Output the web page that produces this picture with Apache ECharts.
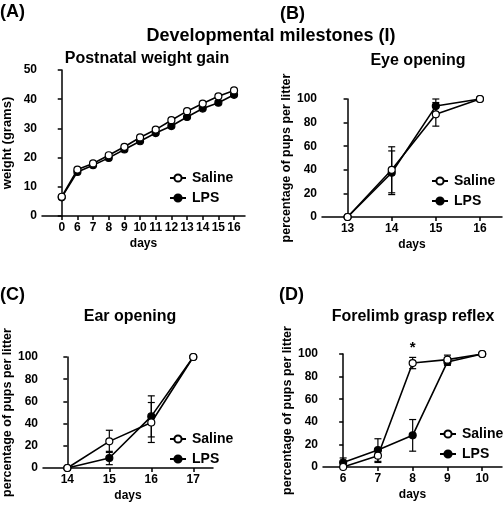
<!DOCTYPE html>
<html>
<head>
<meta charset="utf-8">
<script src="https://cdn.jsdelivr.net/npm/echarts@6.0.0/dist/echarts.min.js"></script>
<style>
html,body{margin:0;padding:0;background:#fff;}
#chart{width:504px;height:506px;}
</style>
</head>
<body>
<div id="chart"></div>
<script>
// ---- Data ----
const weightDays = ['0','6','7','8','9','10','11','12','13','14','15','16'];
const weightSaline = [6.6, 15.9, 18.0, 20.8, 23.7, 26.9, 29.6, 32.8, 35.9, 38.5, 41.0, 43.0];
const weightLPS    = [6.4, 15.1, 17.4, 19.9, 22.8, 25.6, 28.4, 30.8, 33.9, 36.8, 38.8, 41.5];

const eyeDays = ['13','14','15','16'];
const eyeSaline = [0, 40, 87, 100];
const eyeSalineErr = [0, 19.5, 10, 0];
const eyeLPS = [0, 37.5, 94, 100];
const eyeLPSErr = [0, 18.5, 6, 0];

const earDays = ['14','15','16','17'];
const earSaline = [0, 24, 41, 100];
const earSalineErr = [0, 10, 18, 0];
const earLPS = [0, 9, 46.5, 100];
const earLPSErr = [0, 6, 18.5, 0];

const graspDays = ['6','7','8','9','10'];
const graspSaline = [0, 10, 92, 95, 100];
const graspSalineErr = [0, 6, 5, 4, 0];
const graspLPS = [4, 15, 28, 93, 100];
const graspLPSErr = [4, 10, 14, 3, 0];

const pctTicks = [0, 20, 40, 60, 80, 100];
const weightTicks = [0, 10, 20, 30, 40, 50];

// ---- Helpers ----
const FONT = "'Liberation Sans', Arial, sans-serif";
const idx = arr => arr.map((_, i) => i);
const pts = arr => arr.map((v, i) => [i, v]);
const errData = (mean, err) => mean.map((m, i) => [i, m - err[i], m + err[i], err[i]]).filter(d => d[3] > 0);

function errRender(params, api) {
  const x = api.value(0), lo = api.value(1), hi = api.value(2);
  const p1 = api.coord([x, hi]), p2 = api.coord([x, lo]);
  const w = 3.5;
  const st = {stroke: '#000', lineWidth: 1.2};
  return {type: 'group', children: [
    {type: 'line', shape: {x1: p1[0], y1: p1[1], x2: p2[0], y2: p2[1]}, style: st},
    {type: 'line', shape: {x1: p1[0] - w, y1: p1[1], x2: p1[0] + w, y2: p1[1]}, style: st},
    {type: 'line', shape: {x1: p2[0] - w, y1: p2[1], x2: p2[0] + w, y2: p2[1]}, style: st}
  ]};
}

const labelStyle = {color: '#000', fontFamily: FONT, fontWeight: 'bold', fontSize: 12};
const nameStyle = (s) => ({color: '#000', fontFamily: FONT, fontWeight: 'bold', fontSize: s});

function xAxisDef(gi, cats, min, max) {
  const vals = idx(cats);
  return {
    type: 'value', gridIndex: gi, min: min, max: max,
    name: 'days', nameLocation: 'middle', nameGap: 22, nameTextStyle: nameStyle(12),
    axisLine: {show: true, onZero: false, lineStyle: {color: '#000', width: 1.5}},
    axisTick: {show: true, length: 4, lineStyle: {color: '#000', width: 1.5}, customValues: vals},
    axisLabel: Object.assign({margin: 6, customValues: vals, formatter: v => cats[Math.round(v)]}, labelStyle),
    splitLine: {show: false}
  };
}
function yAxisDef(gi, name, ticks, gap, nsize) {
  return {
    type: 'value', gridIndex: gi, min: ticks[0], max: ticks[ticks.length - 1],
    interval: ticks[1] - ticks[0],
    name: name, nameLocation: 'middle', nameGap: gap, nameTextStyle: nameStyle(nsize),
    axisLine: {show: true, lineStyle: {color: '#000', width: 1.5}},
    axisTick: {show: true, length: 4, lineStyle: {color: '#000', width: 1.5}},
    axisLabel: Object.assign({margin: 5}, labelStyle),
    splitLine: {show: false}
  };
}
function lineSeries(name, gi, data, filled) {
  return {
    name: name, type: 'line', xAxisIndex: gi, yAxisIndex: gi, data: pts(data),
    symbol: 'circle', symbolSize: 7, showSymbol: true,
    lineStyle: {color: '#000', width: 1.6},
    itemStyle: {color: filled ? '#000' : '#fff', borderColor: '#000', borderWidth: 1.2},
    emphasis: {disabled: true}, animation: false, z: filled ? 3 : 4
  };
}
function errSeries(gi, mean, err) {
  return {
    type: 'custom', xAxisIndex: gi, yAxisIndex: gi, renderItem: errRender,
    data: errData(mean, err), encode: {x: 0, y: [1, 2]}, animation: false, z: 2, silent: true
  };
}

const grids = [
  {left: 42, top: 70, width: 203, height: 146},
  {left: 322, top: 99, width: 180, height: 118},
  {left: 43, top: 357, width: 170, height: 111},
  {left: 323, top: 354, width: 179, height: 113}
];

const titleStyle = (size) => ({color: '#000', fontFamily: FONT, fontWeight: 'bold', fontSize: size});
const T = (text, left, top, size, center) => ({
  text: text, left: left, top: top, padding: 0, textAlign: center ? 'center' : 'left', textStyle: titleStyle(size)
});

const legendBase = {
  orient: 'vertical', itemWidth: 16, itemHeight: 9, itemGap: 6, padding: 0,
  textStyle: {color: '#000', fontFamily: FONT, fontWeight: 'bold', fontSize: 14, padding: [0, 0, 0, 1]},
  data: ['Saline', 'LPS'], selectedMode: false
};

const graspStar = lineSeries('Saline', 3, graspSaline, false);
graspStar.markPoint = {
  symbol: 'circle', symbolSize: 0, silent: true,
  data: [{coord: [2, 100], value: '*'}],
  label: {show: true, formatter: '*', color: '#000', fontFamily: FONT, fontWeight: 'bold', fontSize: 15, offset: [0, -6]}
};

const option = {
  backgroundColor: '#fff',
  animation: false,
  title: [
    T('Developmental milestones (I)', 271, 27, 18, true),
    T('(A)', 0, 3, 18),
    T('(B)', 280, 5, 18),
    T('(C)', 0, 286, 18),
    T('(D)', 279, 286, 18),
    T('Postnatal weight gain', 147, 51, 16, true),
    T('Eye opening', 418, 53, 16, true),
    T('Ear opening', 130, 309, 16, true),
    T('Forelimb grasp reflex', 413, 309, 16, true)
  ],
  legend: [
    Object.assign({left: 169, top: 171}, legendBase),
    Object.assign({left: 431, top: 174}, legendBase),
    Object.assign({left: 169, top: 432}, legendBase),
    Object.assign({left: 439, top: 427}, legendBase)
  ],
  grid: grids,
  xAxis: [
    xAxisDef(0, weightDays, -1.26, 11.70),
    xAxisDef(1, eyeDays, -0.58, 3.5),
    xAxisDef(2, earDays, -0.58, 3.47),
    xAxisDef(3, graspDays, -0.58, 4.57)
  ],
  yAxis: [
    yAxisDef(0, 'weight (grams)', weightTicks, 28, 13),
    yAxisDef(1, 'percentage of pups per litter', pctTicks, 26, 12.5),
    yAxisDef(2, 'percentage of pups per litter', pctTicks, 26, 12.5),
    yAxisDef(3, 'percentage of pups per litter', pctTicks, 26, 12.5)
  ],
  series: [
    lineSeries('LPS', 0, weightLPS, true),
    lineSeries('Saline', 0, weightSaline, false),

    errSeries(1, eyeSaline, eyeSalineErr),
    errSeries(1, eyeLPS, eyeLPSErr),
    lineSeries('Saline', 1, eyeSaline, false),
    lineSeries('LPS', 1, eyeLPS, true),

    errSeries(2, earSaline, earSalineErr),
    errSeries(2, earLPS, earLPSErr),
    lineSeries('Saline', 2, earSaline, false),
    lineSeries('LPS', 2, earLPS, true),

    errSeries(3, graspSaline, graspSalineErr),
    errSeries(3, graspLPS, graspLPSErr),
    graspStar,
    lineSeries('LPS', 3, graspLPS, true)
  ]
};

const chart = echarts.init(document.getElementById('chart'), null, {renderer: 'canvas'});
chart.setOption(option);
</script>
</body>
</html>
